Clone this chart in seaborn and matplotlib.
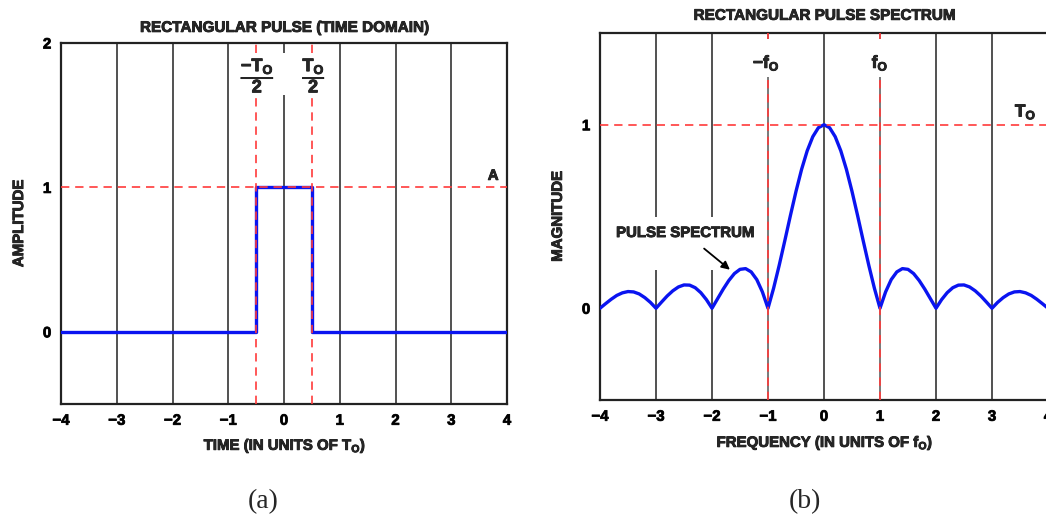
import numpy as np
import pandas as pd
import matplotlib
matplotlib.use("Agg")
import matplotlib.pyplot as plt
import matplotlib.patheffects as pe
import seaborn as sns

# ---------------- data ----------------
time_pts = [-4.0, -0.5, -0.5, 0.5, 0.5, 4.0]
amplitude = [0, 0, 1, 1, 0, 0]

freq_pts = np.linspace(-4, 4, 81)
magnitude = [0.000, 0.025, 0.049, 0.070, 0.084, 0.091, 0.089, 0.078, 0.058, 0.032,
             0.000, 0.034, 0.067, 0.095, 0.116, 0.127, 0.126, 0.112, 0.085, 0.047,
             0.000, 0.052, 0.104, 0.151, 0.189, 0.212, 0.216, 0.198, 0.156, 0.089,
             0.000, 0.109, 0.234, 0.368, 0.505, 0.637, 0.757, 0.858, 0.935, 0.984,
             1.000,
             0.984, 0.935, 0.858, 0.757, 0.637, 0.505, 0.368, 0.234, 0.109, 0.000,
             0.089, 0.156, 0.198, 0.216, 0.212, 0.189, 0.151, 0.104, 0.052, 0.000,
             0.047, 0.085, 0.112, 0.126, 0.127, 0.116, 0.095, 0.067, 0.034, 0.000,
             0.032, 0.058, 0.078, 0.089, 0.091, 0.084, 0.070, 0.049, 0.025, 0.000]

x_ticks = [-4, -3, -2, -1, 0, 1, 2, 3, 4]
y_ticks_time = [0, 1, 2]
y_ticks_freq = [0, 1]

df_time = pd.DataFrame({"t": time_pts, "a": amplitude})
df_freq = pd.DataFrame({"f": freq_pts, "m": magnitude})

# ---------------- style ----------------
sns.set_theme(style="white")
plt.rcParams["font.family"] = ["Liberation Sans", "DejaVu Sans"]
plt.rcParams["font.weight"] = "bold"
plt.rcParams["mathtext.fontset"] = "custom"
plt.rcParams["mathtext.rm"] = "Liberation Sans:bold"
plt.rcParams["mathtext.it"] = "Liberation Sans:bold"
plt.rcParams["mathtext.bf"] = "Liberation Sans:bold"
plt.rcParams["mathtext.sf"] = "Liberation Sans:bold"

GRID = "#222222"
RED = "#ff3b3b"
BLUE = "#0a14f0"
FS = 10.8
HEAVY = [pe.withStroke(linewidth=0.6, foreground="#111111")]

fig = plt.figure(figsize=(10.46, 5.18), dpi=100)
ax1 = fig.add_axes([61 / 1046, 114 / 518, 446 / 1046, 361 / 518])
ax2 = fig.add_axes([600 / 1046, 118 / 518, 448 / 1046, 367 / 518])

dash = (0, (5, 3.5))

# ---------------- panel (a) ----------------
ax1.set_xlim(-4, 4)
ax1.set_ylim(-0.5, 2)
for xv in [-3, -2, -1, 1, 2, 3]:
    ax1.vlines(xv, -0.5, 2, color=GRID, lw=1.1, zorder=1)
ax1.vlines(0, -0.5, 1.64, color=GRID, lw=1.1, zorder=1)
ax1.vlines(0, 1.93, 2, color=GRID, lw=1.1, zorder=1)

sns.lineplot(data=df_time, x="t", y="a", ax=ax1, sort=False, estimator=None,
             color=BLUE, lw=2.4, zorder=3)

for xv in [-0.5, 0.5]:
    ax1.vlines(xv, -0.5, 1.64, color=RED, lw=1.2, linestyles=dash, zorder=4)
    ax1.vlines(xv, 1.93, 2, color=RED, lw=1.2, linestyles=dash, zorder=4)
ax1.axhline(1, color=RED, lw=1.2, linestyle=dash, zorder=4)

ax1.text(-0.47, 1.78, r"$\dfrac{-T_O}{2}$", ha="center", va="center", fontsize=13,
         path_effects=HEAVY)
ax1.text(0.54, 1.78, r"$\dfrac{T_O}{2}$", ha="center", va="center", fontsize=13,
         path_effects=HEAVY)
ax1.text(3.85, 1.08, "A", ha="right", va="center", fontsize=FS, fontweight="bold",
         path_effects=HEAVY)

ax1.set_xticks(x_ticks)
ax1.set_yticks(y_ticks_time)
ax1.set_title("RECTANGULAR PULSE (TIME DOMAIN)", fontsize=11, fontweight="bold", pad=8,
              path_effects=HEAVY)
ax1.set_xlabel(r"TIME (IN UNITS OF $\mathregular{T_O}$)", fontsize=FS, fontweight="bold")
ax1.set_ylabel("AMPLITUDE", fontsize=FS, fontweight="bold")
ax1.xaxis.label.set_va("center")
ax1.yaxis.label.set_va("center")
ax1.xaxis.set_label_coords(0.502, -0.116)
ax1.yaxis.set_label_coords(-0.094, 0.50)

# ---------------- panel (b) ----------------
ax2.set_xlim(-4, 4)
ax2.set_ylim(-0.5, 1.5)
for xv in [0, 2, 3]:
    ax2.vlines(xv, -0.5, 1.5, color=GRID, lw=1.1, zorder=1)
for xv in [-3, -2]:
    ax2.vlines(xv, -0.5, 0.21, color=GRID, lw=1.1, zorder=1)
    ax2.vlines(xv, 0.50, 1.5, color=GRID, lw=1.1, zorder=1)
for xv in [-1, 1]:
    ax2.vlines(xv, -0.5, 1.26, color="#555555", lw=1.1, zorder=1)
    ax2.vlines(xv, 1.47, 1.5, color="#555555", lw=1.1, zorder=1)

sns.lineplot(data=df_freq, x="f", y="m", ax=ax2, sort=False, estimator=None,
             color=BLUE, lw=2.4, zorder=3)

for xv in [-1, 1]:
    ax2.vlines(xv, -0.5, 1.26, color=RED, lw=1.2, linestyles=dash, zorder=4)
    ax2.vlines(xv, 1.47, 1.5, color=RED, lw=1.2, linestyles=dash, zorder=4)
ax2.axhline(1, color=RED, lw=1.2, linestyle=dash, zorder=4)

ax2.text(-1.03, 1.335, r"$-f_O$", ha="center", va="center", fontsize=12.5,
         path_effects=HEAVY)
ax2.text(1.0, 1.335, r"$f_O$", ha="center", va="center", fontsize=12.5,
         path_effects=HEAVY)
ax2.text(3.6, 1.07, r"$T_O$", ha="center", va="center", fontsize=12.5,
         path_effects=HEAVY)

ax2.annotate("PULSE SPECTRUM", xy=(-1.68, 0.21), xytext=(-2.48, 0.41),
             ha="center", va="center", fontsize=FS, fontweight="bold",
             path_effects=HEAVY,
             arrowprops=dict(arrowstyle="-|>", color="black", lw=1.3,
                             mutation_scale=12, shrinkA=6, shrinkB=0))

ax2.set_xticks(x_ticks)
ax2.set_yticks(y_ticks_freq)
ax2.set_title("RECTANGULAR PULSE SPECTRUM", fontsize=11, fontweight="bold", pad=9.5,
              path_effects=HEAVY)
ax2.set_xlabel(r"FREQUENCY (IN UNITS OF $\mathregular{f_O}$)", fontsize=FS, fontweight="bold")
ax2.set_ylabel("MAGNITUDE", fontsize=FS, fontweight="bold")
ax2.xaxis.label.set_va("center")
ax2.yaxis.label.set_va("center")
ax2.xaxis.set_label_coords(0.502, -0.117)
ax2.yaxis.set_label_coords(-0.094, 0.50)

for ax in (ax1, ax2):
    ax.grid(False)
    ax.set_facecolor("white")
    for s in ax.spines.values():
        s.set_color(GRID)
        s.set_linewidth(1.6)
        s.set_visible(True)
    ax.tick_params(axis="both", length=0, pad=7, labelsize=FS, colors="black")
    for lab in ax.get_xticklabels() + ax.get_yticklabels():
        lab.set_fontweight("bold")
        lab.set_path_effects(HEAVY)
    ax.xaxis.label.set_path_effects(HEAVY)
    ax.yaxis.label.set_path_effects(HEAVY)

fig.text(263 / 1046, 1 - 502 / 518, "(a)", ha="center", va="center",
         fontsize=20, family=["Liberation Serif"], fontweight="normal")
fig.text(805 / 1046, 1 - 502 / 518, "(b)", ha="center", va="center",
         fontsize=20, family=["Liberation Serif"], fontweight="normal")

fig.savefig("out.png", dpi=100, facecolor="white")
